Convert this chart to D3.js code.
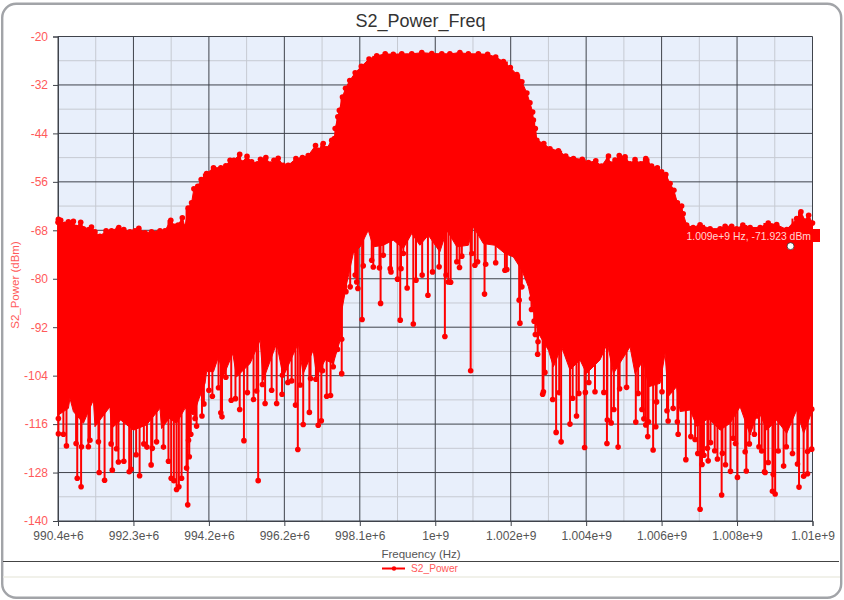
<!DOCTYPE html>
<html><head><meta charset="utf-8">
<script src="https://cdn.jsdelivr.net/npm/d3@7"></script>
<style>
html,body{margin:0;padding:0;background:#fff;overflow:hidden}
svg{display:block}
text{font-family:"Liberation Sans",Arial,sans-serif}
</style></head><body>
<svg id="c" width="844" height="600"></svg>
<script>
// Frequency in MHz, power in dBm: upper envelope of the trace
const topFreq=[990.40,990.41,990.47,990.58,990.67,990.80,990.87,990.99,991.06,991.27,991.36,991.49,991.65,991.79,991.98,992.11,992.27,992.40,992.50,992.66,992.83,993.05,993.18,993.33,993.44,993.52,993.63,993.70,993.78,993.87,993.93,994.03,994.12,994.26,994.44,994.63,994.76,994.87,994.97,995.12,995.17,995.31,995.43,995.58,995.66,995.80,995.91,996.01,996.12,996.25,996.38,996.58,996.75,996.90,997.09,997.16,997.29,997.38,997.51,997.58,997.60,997.67,997.71,997.79,997.87,997.98,998.12,998.28,998.48,998.68,998.90,999.11,999.33,999.59,999.85,1000.11,1000.37,1000.58,1000.84,1001.06,1001.32,1001.56,1001.77,1001.97,1002.15,1002.32,1002.45,1002.58,1002.66,1002.73,1002.75,1002.80,1002.84,1003.02,1003.18,1003.40,1003.59,1003.79,1004.02,1004.18,1004.37,1004.52,1004.70,1004.74,1004.87,1004.98,1005.13,1005.26,1005.39,1005.54,1005.67,1005.82,1005.97,1006.08,1006.19,1006.30,1006.40,1006.49,1006.60,1006.64,1006.73,1006.90,1007.08,1007.34,1007.60,1007.73,1007.90,1008.03,1008.19,1008.38,1008.64,1008.85,1009.07,1009.33,1009.59,1009.70,1009.81,1009.90,1010.00];
const topPower=[-66.0,-65.25,-65.5,-66.5,-65.9,-65.8,-67.3,-66.0,-67.6,-67.2,-68.4,-69.5,-68.1,-68.1,-67.3,-67.8,-68.4,-68.1,-67.5,-68.6,-68.4,-68.1,-68.1,-65.5,-67.0,-66.7,-64.9,-67.2,-62.5,-61.2,-57.7,-57.1,-55.4,-53.95,-52.5,-52.5,-52.05,-50.65,-50.65,-49.2,-51.3,-49.7,-51.05,-51.5,-50.4,-50.0,-51.6,-50.65,-50.15,-51.9,-51.9,-50.25,-50.0,-49.5,-47.0,-48.2,-46.5,-47.8,-45.7,-45.3,-42.8,-39.9,-38.3,-35.0,-32.8,-30.9,-29.0,-27.4,-25.6,-24.8,-24.3,-24.4,-24.3,-24.3,-24.0,-24.2,-24.3,-24.3,-24.0,-24.3,-24.3,-24.4,-25.1,-26.2,-27.7,-29.4,-31.2,-34.0,-36.4,-38.7,-40.7,-42.8,-45.7,-46.5,-47.8,-48.3,-49.6,-50.2,-50.4,-51.2,-50.8,-52.1,-49.6,-51.5,-50.6,-49.5,-49.8,-51.5,-50.5,-51.5,-50.2,-52.1,-52.5,-53.5,-54.2,-56.4,-58.1,-61.2,-62.0,-63.9,-66.7,-67.3,-66.65,-67.6,-67.6,-67.0,-67.0,-67.6,-66.7,-67.3,-67.3,-66.2,-66.6,-67.8,-65.1,-63.4,-65.7,-64.3,-66.2];
// Lower edge of the solid part of the trace
const floorFreq=[990.40,990.67,990.71,990.80,991.06,991.32,991.36,991.75,991.79,992.03,992.36,992.70,993.05,993.09,993.29,993.48,993.70,993.92,994.05,994.22,994.26,994.44,994.57,994.69,994.94,995.04,995.39,995.65,995.73,996.08,996.25,996.64,996.77,997.03,997.12,997.34,997.55,997.73,997.77,997.90,998.07,998.25,998.46,998.59,998.85,999.11,999.37,999.59,999.80,1000.02,1000.32,1000.50,1000.76,1001.06,1001.19,1001.45,1001.75,1002.01,1002.23,1002.45,1002.62,1002.75,1002.88,1003.14,1003.27,1003.48,1003.70,1003.96,1004.13,1004.48,1004.67,1004.83,1005.26,1005.39,1005.61,1005.74,1006.04,1006.17,1006.25,1006.47,1006.56,1006.82,1007.00,1007.29,1007.60,1007.86,1008.12,1008.38,1008.59,1008.81,1009.07,1009.33,1009.59,1009.77,1010.00];
const floorPower=[-113.8,-112.1,-109.6,-112.9,-115.8,-110,-116.65,-111.7,-117.1,-115,-117.5,-116.2,-112.1,-117.1,-114.6,-115.8,-112.1,-113.8,-110,-105.9,-103,-103,-99.3,-104.3,-98.5,-104.3,-101,-95.2,-105.1,-96,-104.3,-96,-103.5,-97.7,-104.3,-100.1,-101,-95.2,-88,-81.2,-73.75,-72.1,-68,-72.1,-71.7,-70.45,-72.5,-68.8,-71.7,-69.2,-73.35,-68,-72.1,-71.7,-67.15,-71.3,-71.7,-73.75,-74.6,-77.9,-82,-87.8,-93.55,-97.7,-101.8,-96.85,-102.6,-100.1,-103.45,-100.1,-96,-103.45,-96.85,-103.45,-100.15,-106.75,-105.9,-98.5,-109.2,-106.75,-112.9,-112.5,-116.65,-114.6,-117.5,-115.8,-111.7,-118.7,-112.5,-117.5,-115,-118.3,-112.5,-118.3,-112.5];
// Deep minima
const dipFreq=[990.41,990.41,990.54,990.62,990.90,991.00,990.87,991.01,991.19,991.23,991.47,991.45,991.61,991.81,991.78,991.92,991.97,992.11,992.25,992.30,992.52,992.43,992.63,992.71,992.82,992.85,992.96,993.14,993.27,993.34,993.41,993.48,993.54,993.61,993.74,993.77,993.81,993.79,993.85,994.00,993.96,994.14,994.19,994.32,994.41,994.57,994.63,994.66,994.76,994.90,995.01,995.12,995.23,995.32,995.48,995.60,995.56,995.71,995.78,995.95,996.08,996.22,996.23,996.37,996.47,996.57,996.63,996.69,996.77,996.93,996.96,997.10,997.16,997.24,997.27,997.38,997.48,997.55,997.77,997.66,997.77,997.88,997.99,998.12,998.16,998.19,998.30,998.33,998.55,998.59,998.75,998.78,998.85,999.03,999.05,999.22,999.29,999.31,999.37,999.47,999.63,999.70,999.86,1000.01,1000.13,1000.30,1000.45,1000.48,1000.54,1000.60,1000.76,1000.83,1000.89,1001.12,1001.15,1001.23,1001.30,1001.48,1001.51,1001.77,1002.01,1002.06,1002.38,1002.40,1002.45,1002.70,1002.70,1002.80,1002.77,1002.87,1002.86,1002.99,1003.01,1003.05,1003.25,1003.34,1003.42,1003.47,1003.70,1003.77,1003.87,1003.93,1004.08,1004.10,1004.19,1004.35,1004.58,1004.66,1004.67,1004.77,1004.84,1004.95,1004.99,1005.17,1005.41,1005.47,1005.57,1005.62,1005.67,1005.72,1005.74,1005.86,1005.93,1005.95,1006.09,1006.22,1006.25,1006.38,1006.49,1006.51,1006.71,1006.84,1006.95,1007.02,1007.08,1007.13,1007.18,1007.29,1007.27,1007.35,1007.46,1007.53,1007.64,1007.66,1007.74,1007.87,1007.94,1008.05,1008.00,1008.25,1008.28,1008.36,1008.49,1008.55,1008.61,1008.68,1008.75,1008.77,1008.85,1008.96,1009.03,1008.98,1009.11,1009.25,1009.32,1009.48,1009.61,1009.65,1009.77,1009.87,1009.87,1009.98,1009.98];
const dipPower=[-114.6,-118.4,-118.5,-121.4,-129.4,-131.5,-120.8,-121.6,-121.6,-120,-128.0,-120.4,-129.9,-127.4,-120.9,-122.1,-125.4,-125.2,-127.8,-127.2,-128.8,-123.6,-120.9,-121.7,-126.1,-122.0,-120.4,-121.7,-125.2,-129.4,-130.0,-132.2,-131.5,-129.4,-126.9,-136.0,-124.1,-120,-118.5,-116.5,-114.6,-114,-111,-107.6,-109.1,-107,-113.2,-114.2,-104.4,-110.1,-109.7,-112.4,-120.1,-108.2,-109.9,-130,-107.8,-106.2,-110.9,-107.6,-110.9,-108.6,-103.9,-105.7,-105.3,-111.3,-122.3,-106.3,-116.1,-113.1,-104.7,-104.9,-116.3,-115.2,-102.8,-109.1,-108.9,-101.8,-103.5,-97.5,-95,-83.2,-82,-79.1,-80.8,-82.4,-90.1,-76.8,-75.4,-77.1,-77.3,-86.1,-74.2,-77.5,-78.3,-80.1,-90.25,-77.5,-73.75,-82.3,-91.2,-80.35,-79.1,-84.1,-78.3,-77.05,-94.3,-79.1,-80.8,-80.85,-75.8,-77.2,-74.4,-102.8,-73.75,-76.65,-75.8,-83.8,-76.4,-76.05,-77.9,-77.7,-85.3,-91,-82,-84.9,-87.6,-93.8,-90.5,-95.6,-98.7,-108.6,-108,-103.2,-109.9,-118.05,-108.2,-120.4,-116,-109.6,-114,-108.4,-121.8,-108.15,-105.7,-108,-108.15,-120.8,-115,-115.7,-112.4,-121.7,-107.25,-106.9,-115.5,-108.4,-112.4,-114.7,-116.2,-119.1,-115.4,-122.4,-116.65,-110.5,-108,-112.7,-115.25,-112.1,-115.4,-118.5,-124.8,-119.1,-119.8,-123.3,-137.1,-126,-123.7,-125.1,-122,-120.6,-122.6,-124.65,-133.55,-123.25,-126.05,-127.7,-119.5,-129.2,-120.8,-122.85,-127.6,-120.9,-118.5,-114,-121.6,-122.65,-127.8,-128,-125.5,-132.65,-133.3,-128.45,-122.65,-126.4,-121.6,-123.3,-125.9,-131.6,-128.9,-128.3,-122.8,-122.2,-112.3];
const xTickValues=[990.4,992.36,994.32,996.28,998.24,1000.2,1002.16,1004.12,1006.08,1008.04,1010];
const xTickLabels=["990.4e+6","992.3e+6","994.2e+6","996.2e+6","998.1e+6","1e+9","1.002e+9","1.004e+9","1.006e+9","1.008e+9","1.01e+9"];
const yTickValues=[-20,-32,-44,-56,-68,-80,-92,-104,-116,-128,-140];
const cursorFreq=[1009.43], cursorPower=[-71.923];

const RED="#ff0000", SOFT="#ff5a5a", GREY="#555";
const svg=d3.select("#c");
const L=58,R=812.5,T=36.5,B=521;
const x=d3.scaleLinear().domain([990.4,1010]).range([L,R]);
const y=d3.scaleLinear().domain([-140,-20]).range([B,T]);

// outer frame and footer rules
svg.append("rect").attr("x",2.2).attr("y",3.8).attr("width",839).attr("height",594).attr("rx",14).attr("fill","#fff").attr("stroke","#a2a4a8").attr("stroke-width",2.4);
svg.append("line").attr("x1",3).attr("x2",839).attr("y1",561.5).attr("y2",561.5).attr("stroke","#444");
svg.append("line").attr("x1",3.5).attr("x2",840).attr("y1",577).attr("y2",577).attr("stroke","#f1f1ea").attr("stroke-width",2);

svg.append("rect").attr("x",L).attr("y",T).attr("width",R-L).attr("height",B-T).attr("fill","#e8effb");

// minor grid (midway between ticks)
const xMinor=d3.pairs(xTickValues,(a,b)=>(a+b)/2), yMinor=d3.pairs(yTickValues,(a,b)=>(a+b)/2);
const g=svg.append("g");
g.selectAll(".mx").data(xMinor).join("line").attr("x1",d=>x(d)).attr("x2",d=>x(d)).attr("y1",T).attr("y2",B).attr("stroke","#c6cad2");
g.selectAll(".my").data(yMinor).join("line").attr("x1",L).attr("x2",R).attr("y1",d=>y(d)).attr("y2",d=>y(d)).attr("stroke","#c6cad2");
// major grid
g.selectAll(".gx").data(xTickValues).join("line").attr("x1",d=>x(d)).attr("x2",d=>x(d)).attr("y1",T).attr("y2",B).attr("stroke","#3f434b");
g.selectAll(".gy").data(yTickValues).join("line").attr("x1",L).attr("x2",R).attr("y1",d=>y(d)).attr("y2",d=>y(d)).attr("stroke","#3f434b");

// axes
const xa=svg.append("g").attr("transform",`translate(0,${B})`).call(d3.axisBottom(x).tickValues(xTickValues).tickFormat((d,i)=>xTickLabels[i]).tickSize(5).tickPadding(5));
const ya=svg.append("g").attr("transform",`translate(${L},0)`).call(d3.axisLeft(y).tickValues(yTickValues).tickFormat(d=>String(d)).tickSize(5).tickPadding(5));
xa.selectAll(".domain,line").attr("stroke","#3f434b");
ya.selectAll(".domain,line").attr("stroke","#3f434b");
xa.selectAll("text").attr("fill",GREY).attr("font-size",12).attr("font-family",'"Liberation Sans",Arial,sans-serif');
ya.selectAll("text").attr("fill",SOFT).attr("font-size",12).attr("font-family",'"Liberation Sans",Arial,sans-serif');

// trace
const topPts=topFreq.map((f,i)=>[f,topPower[i]]);
const floorPts=floorFreq.map((f,i)=>[f,floorPower[i]]);
const dipPts=dipFreq.map((f,i)=>[f,dipPower[i]]);
const line=d3.line().x(d=>x(d[0])).y(d=>y(d[1]));
svg.append("path").attr("d",line(topPts.concat(floorPts.slice().reverse()))+"Z").attr("fill",RED).attr("stroke",RED).attr("stroke-width",1);
const bis=d3.bisector(d=>d[0]).center;
svg.append("g").selectAll("line").data(dipPts).join("line")
  .attr("x1",d=>x(d[0])).attr("x2",d=>x(d[0])).attr("y1",d=>y(d[1]))
  .attr("y2",d=>y(topPts[bis(topPts,d[0])][1]))
  .attr("stroke",RED).attr("stroke-width",2);
svg.append("g").selectAll("circle").data(topPts.concat(dipPts)).join("circle")
  .attr("cx",d=>x(d[0])).attr("cy",d=>y(d[1])).attr("r",2.8).attr("fill",RED);

// cursor tooltip
svg.append("rect").attr("x",685).attr("y",229).attr("width",135).attr("height",13).attr("fill",RED);
svg.append("text").attr("x",686.5).attr("y",239.5).attr("font-size",10.4).attr("fill","#ffd6d6").text("1.009e+9 Hz, -71.923 dBm");
svg.selectAll(".cur").data(cursorFreq).join("circle").attr("cx",d=>x(d)).attr("cy",(d,i)=>y(cursorPower[i])).attr("r",3.5).attr("fill","#fff").attr("stroke","#333").attr("stroke-width",.8);

// titles
svg.append("text").attr("x",420.5).attr("y",27).attr("text-anchor","middle").attr("font-size",18).attr("fill","#333").text("S2_Power_Freq");
svg.append("text").attr("x",421).attr("y",558).attr("text-anchor","middle").attr("font-size",11.5).attr("fill",GREY).text("Frequency (Hz)");
svg.append("text").attr("transform","translate(19,285) rotate(-90)").attr("text-anchor","middle").attr("font-size",11.5).attr("fill",SOFT).text("S2_Power (dBm)");

// legend
svg.append("line").attr("x1",382).attr("x2",405).attr("y1",568.5).attr("y2",568.5).attr("stroke",RED).attr("stroke-width",2);
svg.append("circle").attr("cx",394).attr("cy",568.5).attr("r",2.2).attr("fill",RED);
svg.append("text").attr("x",411).attr("y",572).attr("font-size",10.2).attr("fill",SOFT).text("S2_Power");
</script>
</body></html>
